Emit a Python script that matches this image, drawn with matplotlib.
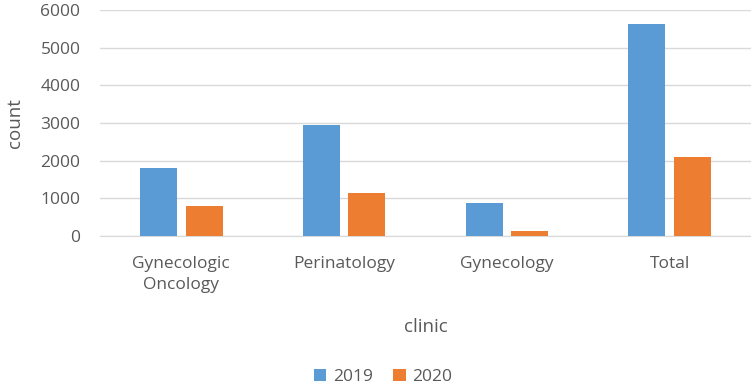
import numpy as np
import matplotlib
matplotlib.use("Agg")
import matplotlib.pyplot as plt

clinics = ["Gynecologic\nOncology", "Perinatology", "Gynecology", "Total"]
counts_2019 = [1800, 2950, 875, 5625]
counts_2020 = [800, 1155, 135, 2090]
series_names = ["2019", "2020"]

BLUE = "#5B9BD5"
ORANGE = "#ED7D31"
TEXT = "#595959"

plt.rcParams["font.family"] = ["Open Sans", "DejaVu Sans"]

fig = plt.figure(figsize=(7.51, 3.87), dpi=100)
ax = fig.add_axes([0.133, 0.390, 0.867, 0.584])

x = np.arange(len(clinics))
w = 0.227
ax.bar(x - 0.14, counts_2019, w, color=BLUE, label=series_names[0], zorder=3)
ax.bar(x + 0.14, counts_2020, w, color=ORANGE, label=series_names[1], zorder=3)

ax.set_xlim(-0.5, len(clinics) - 0.5)
ax.set_ylim(0, 6000)
ax.set_yticks(range(0, 6001, 1000))
ax.yaxis.grid(True, color="#D9D9D9", linewidth=1, zorder=0)
for s in ["top", "right", "left"]:
    ax.spines[s].set_visible(False)
ax.spines["bottom"].set_color("#D9D9D9")
ax.tick_params(axis="both", length=0, colors=TEXT, labelsize=12.5)
ax.tick_params(axis="y", pad=14)
ax.tick_params(axis="x", pad=14)
ax.set_xticks(x)
ax.set_xticklabels(clinics, linespacing=1.45)

ax.set_ylabel("count", fontsize=13.5, color=TEXT, labelpad=12)
ax.set_xlabel("clinic", fontsize=13.5, color=TEXT, labelpad=18)

ax.legend(loc="center", bbox_to_anchor=(0.435, -0.625), ncol=2, frameon=False,
          fontsize=12.5, labelcolor=TEXT, handlelength=0.7, handleheight=0.7,
          columnspacing=1.2, handletextpad=0.4)

fig.savefig("out.png", dpi=100)
